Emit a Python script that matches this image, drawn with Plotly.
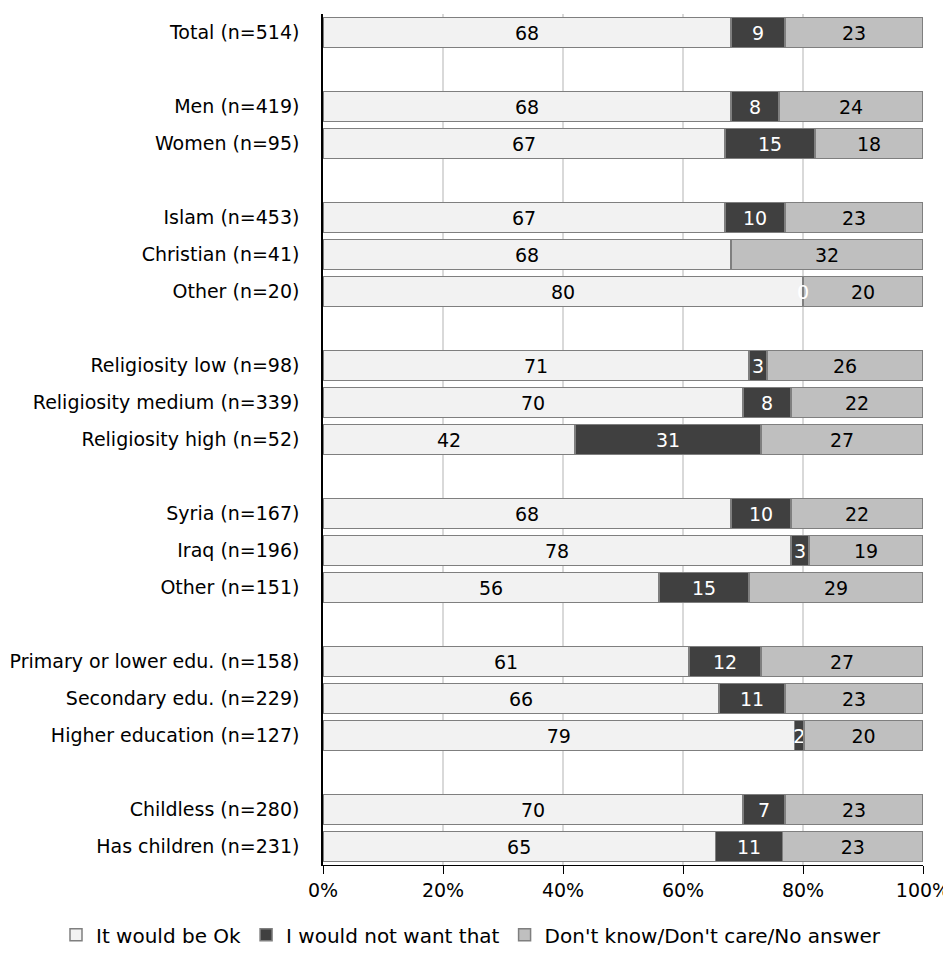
import plotly.graph_objects as go

categories = [
    "Total (n=514)", " ",
    "Men (n=419)", "Women (n=95)", "  ",
    "Islam (n=453)", "Christian (n=41)", "Other (n=20)", "   ",
    "Religiosity low (n=98)", "Religiosity medium (n=339)", "Religiosity high (n=52)", "    ",
    "Syria (n=167)", "Iraq (n=196)", "Other (n=151)", "     ",
    "Primary or lower edu. (n=158)", "Secondary edu. (n=229)", "Higher education (n=127)", "      ",
    "Childless (n=280)", "Has children (n=231)",
]
ok = [68, None, 68, 67, None, 67, 68, 80, None, 71, 70, 42, None, 68, 78, 56, None, 61, 66, 78.6, None, 70, 65.4]
not_want = [9, None, 8, 15, None, 10, None, 0, None, 3, 8, 31, None, 10, 3, 15, None, 12, 11, 1.6, None, 7, 11.2]
dont_know = [23, None, 24, 18, None, 23, 32, 20, None, 26, 22, 27, None, 22, 19, 29, None, 27, 23, 19.8, None, 23, 23.4]

series = [
    ("It would be Ok", ok, "#f2f2f2", "#000000"),
    ("I would not want that", not_want, "#404040", "#ffffff"),
    ("Don't know/Don't care/No answer", dont_know, "#bfbfbf", "#000000"),
]

FONT = "DejaVu Sans, sans-serif"
FS = 19

fig = go.Figure()
for name, vals, color, tcolor in series:
    fig.add_trace(go.Bar(
        y=categories, x=vals, name=name, orientation="h",
        marker=dict(color=color, line=dict(color="#7f7f7f", width=1.5)),
        text=[("" if v is None else str(round(v))) for v in vals],
        textposition="inside", insidetextanchor="middle", textangle=0,
        textfont=dict(color=tcolor, size=FS, family=FONT),
        width=0.8,
    ))

# labels for zero-valued segments (bar has no width)
annotations = []
for i, v in enumerate(not_want):
    if v == 0:
        annotations.append(dict(x=ok[i], y=categories[i], text=str(v), showarrow=False,
                                font=dict(color="#ffffff", size=FS, family=FONT)))

fig.update_layout(
    barmode="stack",
    width=943, height=952,
    margin=dict(l=315, r=28, t=6, b=95),
    paper_bgcolor="white", plot_bgcolor="white",
    font=dict(family=FONT, size=FS, color="#000000"),
    uniformtext=dict(minsize=FS, mode="show"),
    annotations=annotations,
    legend=dict(orientation="h", x=-0.445, xanchor="left", xref="paper",
                y=-0.082, yanchor="middle", font=dict(size=20, family=FONT),
                traceorder="normal", itemwidth=30, tracegroupgap=0),
    xaxis=dict(range=[0, 100], dtick=20, ticksuffix="%", showgrid=True,
               gridcolor="#d9d9d9", gridwidth=1.5, zeroline=False,
               showline=True, linecolor="#000000", linewidth=1,
               ticks="outside", ticklen=8, tickcolor="#000000",
               tickfont=dict(size=FS, family=FONT), automargin=False),
    yaxis=dict(categoryorder="array", categoryarray=categories, autorange="reversed",
               showline=True, linecolor="#000000", linewidth=1.5, showgrid=False,
               ticks="", ticklabelstandoff=18, tickfont=dict(size=FS, family=FONT),
               automargin=False),
)

fig.write_html("out.html")
